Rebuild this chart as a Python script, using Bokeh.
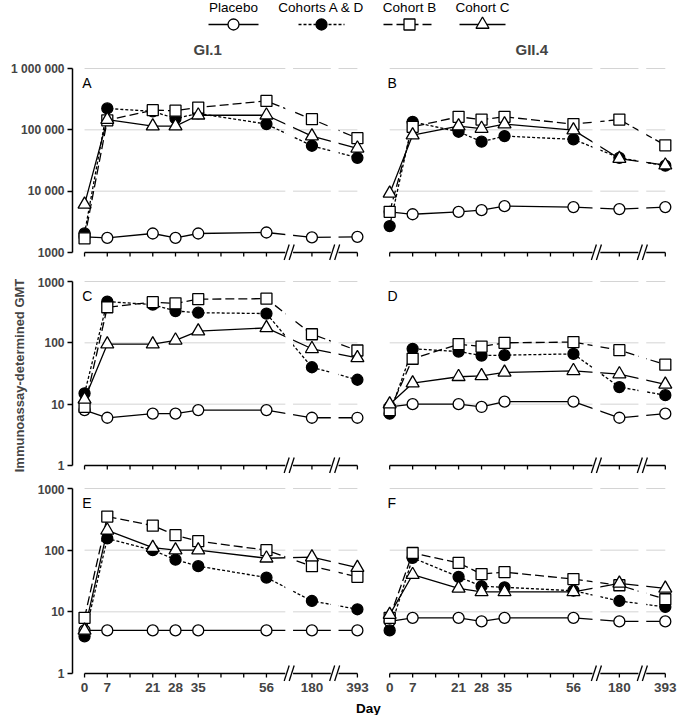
import math
from bokeh.plotting import figure
from bokeh.layouts import column, row
from bokeh.models import Range1d, FixedTicker, Title
from bokeh.embed import file_html
from bokeh.resources import INLINE
from bokeh.core.properties import value

FONT = "Liberation Sans"
NARROW = "Liberation Sans Narrow, Liberation Sans"

# ---------------- data ----------------
DAYS = [0, 7, 21, 28, 35, 56, 180, 393]
SLOTS = [0, 1, 3, 4, 5, 8, 10, 12]      # broken-axis slot of each day
MINOR_SLOTS = [2, 6, 7]                 # unlabeled weekly ticks (14, 42, 49)
BREAK_SLOTS = [9, 11]                   # axis breaks

SERIES = ["Placebo", "Cohorts A & D", "Cohort B", "Cohort C"]

# Panel A  GI.1 (assay 1)
A_placebo = [1800, 1730, 2040, 1730, 2040, 2120, 1760, 1800]
A_ad = [2050, 223000, 200000, 153000, 185000, 124000, 55000, 35000]
A_b = [1700, 143000, 209000, 205000, 231000, 296000, 149000, 73000]
A_c = [6100, 147000, 115000, 115000, 173000, 173000, 79000, 50000]

# Panel B  GII.4 (assay 1)
B_placebo = [4600, 4200, 4600, 4900, 5700, 5500, 5100, 5500]
B_ad = [2700, 135000, 93000, 64000, 79000, 70000, 35000, 26000]
B_b = [4600, 112000, 163000, 147000, 163000, 124000, 147000, 56000]
B_c = [9200, 82000, 115000, 105000, 124000, 99000, 34000, 26500]

# Panel C  GI.1 (assay 2)
C_placebo = [8, 6, 7, 7, 8, 8, 6, 6]
C_ad = [15, 470, 420, 330, 310, 300, 40, 25]
C_b = [9, 380, 460, 440, 515, 525, 138, 75]
C_c = [12, 95, 95, 110, 155, 175, 80, 57]

# Panel D  GII.4 (assay 2)
D_placebo = [9, 10, 10, 9, 11, 11, 6, 7]
D_ad = [7, 80, 72, 62, 63, 66, 19, 14]
D_b = [8, 55, 95, 87, 100, 103, 76, 44]
D_c = [10, 22, 28, 29, 33, 35, 31, 21]

# Panel E  GI.1 (assay 3)
E_placebo = [5, 5, 5, 5, 5, 5, 5, 5]
E_ad = [4, 155, 100, 70, 55, 36, 15, 11]
E_b = [8, 350, 250, 175, 140, 100, 55, 37]
E_c = [5, 210, 110, 100, 100, 74, 77, 52]

# Panel F  GII.4 (assay 3)
F_placebo = [7, 8, 8, 7, 8, 8, 7, 7]
F_ad = [5, 75, 37, 26, 25, 22, 15, 12]
F_b = [8, 90, 62, 41, 44, 34, 27, 16]
F_c = [9, 40, 24, 21, 21, 21, 29, 24]

# ---------------- styles ----------------
STYLE = {
    "Placebo": dict(dash="solid", marker="circle", size=11, fill="white"),
    "Cohorts A & D": dict(dash="3 2", marker="circle", size=11, fill="black"),
    "Cohort B": dict(dash="9 4", marker="square", size=11, fill="white"),
    "Cohort C": dict(dash="solid", marker="triangle", size=13, fill="white"),
}
LW = 1.3
GRID = "#d4d4d4"


def tick_label(v):
    v = int(round(v))
    return str(v) if v < 10000 else f"{v:,}".replace(",", " ")


def make_panel(letter, lo, hi, series_vals, left, bottom_labels, H, top_b, bot_b,
               title=None, title_offset=0, ylabel=None):
    d = (H - 12) / 3.0
    ys = lo * 10 ** (-8 / d)
    ye = hi * 10 ** (4 / d)
    lb = 72 if left else 0
    rb = 11 if left else 5
    fw = 294 if left else 297
    ttl = None
    if title:
        ttl = Title(text=title, align="left", offset=title_offset, text_font=FONT,
                    text_font_style="bold", text_font_size="15px", standoff=13)
    p = figure(width=fw + lb + rb, height=H + top_b + bot_b,
               x_range=Range1d(-0.53, 12.4), y_range=Range1d(ys, ye),
               y_axis_type="log", output_backend="svg", toolbar_location=None,
               min_border_left=lb, min_border_right=rb,
               min_border_top=top_b, min_border_bottom=bot_b, title=ttl)
    p.outline_line_color = None
    p.xgrid.visible = False
    p.ygrid.visible = False
    p.background_fill_color = "white"
    p.border_fill_color = "white"

    n_dec = int(round(math.log10(hi / lo)))
    decades = [lo * 10 ** k for k in range(0, n_dec + 1)]

    x0, x1 = SLOTS[0], SLOTS[-1]
    # grid lines
    p.segment(x0=[x0] * n_dec, x1=[x1] * n_dec, y0=decades[1:], y1=decades[1:],
              line_color=GRID, line_width=1)
    # x axis line and ticks (drawn as glyphs because of the broken axis)
    p.segment(x0=[x0], x1=[x1], y0=[lo], y1=[lo], line_color="black", line_width=1.5)
    ticks = sorted(SLOTS + MINOR_SLOTS)
    p.segment(x0=ticks, x1=ticks, y0=[lo] * len(ticks),
              y1=[lo * 10 ** (-4 / d)] * len(ticks), line_color="black", line_width=1.3)

    # series lines
    for name, vals in zip(SERIES, series_vals):
        st = STYLE[name]
        p.line(SLOTS, vals, line_color="black", line_width=LW, line_dash=st["dash"])

    # break gaps
    p.quad(left=[b - 0.17 for b in BREAK_SLOTS], right=[b + 0.17 for b in BREAK_SLOTS],
           bottom=ys, top=ye, fill_color="white", line_color=None)
    # break marks //
    sx0, sx1, sy0, sy1 = [], [], [], []
    for b in BREAK_SLOTS:
        for off in (-0.11, 0.11):
            sx0.append(b + off - 0.11)
            sx1.append(b + off + 0.11)
            sy0.append(lo * 10 ** (-7.5 / d))
            sy1.append(lo * 10 ** (8 / d))
    p.segment(x0=sx0, x1=sx1, y0=sy0, y1=sy1, line_color="black", line_width=1.3)

    # markers
    for name, vals in zip(SERIES, series_vals):
        st = STYLE[name]
        p.scatter(SLOTS, vals, marker=st["marker"], size=st["size"],
                  fill_color=st["fill"], line_color="black", line_width=LW)

    # panel letter
    p.text(x=[-0.1], y=[hi * 10 ** (-6 / d)], text=[letter], text_font=value(FONT),
           text_font_size="14px", text_baseline="top", text_align="left",
           text_color="black")

    # y axis
    yax = p.yaxis[0]
    if left:
        yax.ticker = FixedTicker(ticks=decades)
        yax.bounds = (lo, hi)
        yax.major_label_overrides = {v: tick_label(v) for v in decades}
        yax.minor_tick_line_color = None
        yax.major_tick_out = 5
        yax.major_tick_in = 0
        yax.axis_line_width = 1.5
        yax.major_tick_line_width = 1.5
        yax.major_label_text_font = FONT
        yax.major_label_text_font_style = "bold"
        yax.major_label_text_font_size = "12px"
        yax.major_label_standoff = 3
        if ylabel:
            yax.axis_label = ylabel
            yax.axis_label_text_font = NARROW
            yax.axis_label_text_font_style = "bold"
            yax.axis_label_text_font_size = "13px"
            yax.axis_label_standoff = 8
    else:
        yax.visible = False

    xax = p.xaxis[0]
    if bottom_labels:
        xax.ticker = FixedTicker(ticks=SLOTS)
        xax.major_label_overrides = {s: str(dd) for s, dd in zip(SLOTS, DAYS)}
        xax.axis_line_color = None
        xax.major_tick_line_color = None
        xax.minor_tick_line_color = None
        xax.major_tick_out = 0
        xax.major_tick_in = 0
        xax.major_label_standoff = 1
        xax.major_label_text_font = FONT
        xax.major_label_text_font_style = "bold"
        xax.major_label_text_font_size = "13.5px"
    else:
        xax.visible = False
    return p


pA = make_panel("A", 1000, 1000000, [A_placebo, A_ad, A_b, A_c], True, False, 196, 32, 17,
                title="GI.1", title_offset=121)
pB = make_panel("B", 1000, 1000000, [B_placebo, B_ad, B_b, B_c], False, False, 196, 32, 17,
                title="GII.4", title_offset=138)
pC = make_panel("C", 1, 1000, [C_placebo, C_ad, C_b, C_c], True, False, 196, 0, 11,
                ylabel="Immunoassay-determined GMT")
pD = make_panel("D", 1, 1000, [D_placebo, D_ad, D_b, D_c], False, False, 196, 0, 11)
pE = make_panel("E", 1, 1000, [E_placebo, E_ad, E_b, E_c], True, True, 197, 0, 16)
pF = make_panel("F", 1, 1000, [F_placebo, F_ad, F_b, F_c], False, True, 197, 0, 16)

# ---------------- legend ----------------
TOTAL_W = 679
LEG_H = 32
leg = figure(width=TOTAL_W, height=LEG_H, x_range=Range1d(0, TOTAL_W),
             y_range=Range1d(LEG_H, 0), output_backend="svg", toolbar_location=None,
             min_border=0, title=None)
leg.axis.visible = False
leg.grid.visible = False
leg.outline_line_color = None
LEG_X = [233, 321, 409, 482]
LEG_HALF = [25, 23, 26, 23]
TEXT_Y = 7
GLYPH_Y = 24
leg.text(x=LEG_X, y=[TEXT_Y] * 4, text=SERIES, text_font=value(FONT),
         text_font_size="13.5px", text_align="center", text_baseline="middle",
         text_color="black")
for name, cx, hl in zip(SERIES, LEG_X, LEG_HALF):
    st = STYLE[name]
    leg.line([cx - hl, cx + hl], [GLYPH_Y, GLYPH_Y], line_color="black", line_width=LW,
             line_dash=st["dash"])
    leg.scatter([cx], [GLYPH_Y], marker=st["marker"], size=st["size"],
                fill_color=st["fill"], line_color="black", line_width=LW)

# ---------------- "Day" label ----------------
DAY_H = 18
dayf = figure(width=TOTAL_W, height=DAY_H, x_range=Range1d(0, TOTAL_W),
              y_range=Range1d(DAY_H, 0), output_backend="svg", toolbar_location=None,
              min_border=0, title=None)
dayf.axis.visible = False
dayf.grid.visible = False
dayf.outline_line_color = None
dayf.text(x=[368], y=[11], text=["Day"], text_font=value(FONT),
          text_font_size="13.5px", text_font_style="bold", text_align="center",
          text_baseline="middle", text_color="black")

layout = column(leg, row(pA, pB), row(pC, pD), row(pE, pF), dayf)

with open("out.html", "w") as f:
    f.write(file_html(layout, INLINE))
